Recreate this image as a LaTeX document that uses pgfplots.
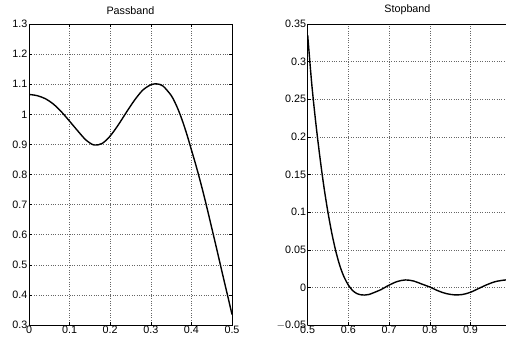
\documentclass[border=0pt]{standalone}
\usepackage{pgfplots}
\pgfplotsset{compat=1.18}
\usepackage{fontspec}
\setmainfont{Liberation Sans}
\begin{document}
\begin{tikzpicture}[x=1bp,y=1bp]
\path[use as bounding box] (0,0) rectangle (506,338);
\pgfplotsset{
  mystyle/.style={
    scale only axis,
    /pgf/number format/assume math mode=true,
    font=\fontsize{10.8}{11}\selectfont,
    tick label style={font=\fontsize{10.8}{11}\selectfont},
    title style={font=\fontsize{10.8}{11}\selectfont, at={(0.5,1)}, anchor=south, yshift=0bp},
    xticklabel style={inner sep=0.5pt},
    yticklabel style={inner sep=1.5pt},
    tick align=inside,
    major tick length=3bp,
    grid=major,
    grid style={dotted, line width=0.45pt, black!60},
    axis line style={line width=0.6pt},
    tick style={line width=0.5pt, black},
    every axis plot/.append style={line width=1.4pt, black},
  }
}
\begin{axis}[mystyle,
  at={(29bp,13bp)}, anchor=south west,
  width=203bp, height=301bp,
  xmin=0, xmax=0.5, ymin=0.3, ymax=1.3,
  xtick={0,0.1,0.2,0.3,0.4,0.5},
  xticklabels={0,0.1,0.2,0.3,0.4,0.5},
  ytick={0.3,0.4,0.5,0.6,0.7,0.8,0.9,1,1.1,1.2,1.3},
  yticklabels={0.3,0.4,0.5,0.6,0.7,0.8,0.9,1,1.1,1.2,1.3},
  title={Passband},
]
\addplot[smooth] coordinates {
(0,1.066) (0.02,1.062) (0.04,1.052) (0.06,1.034) (0.08,1.008) (0.10,0.977)
(0.12,0.945) (0.14,0.915) (0.16,0.898) (0.18,0.903) (0.20,0.928) (0.22,0.965)
(0.24,1.007) (0.26,1.047) (0.28,1.08) (0.30,1.098) (0.315,1.101) (0.33,1.094)
(0.35,1.063) (0.36,1.038) (0.37,1.007) (0.38,0.970) (0.39,0.928) (0.40,0.882) (0.41,0.836)
(0.42,0.787) (0.43,0.735) (0.44,0.680) (0.45,0.623) (0.46,0.566) (0.47,0.508)
(0.48,0.45) (0.49,0.393) (0.50,0.335)
};
\end{axis}
\begin{axis}[mystyle,
  at={(307.7bp,13bp)}, anchor=south west,
  width=199.4bp, height=301bp,
  xmin=0.5, xmax=0.99, ymin=-0.05, ymax=0.35,
  xtick={0.5,0.6,0.7,0.8,0.9},
  xticklabels={0.5,0.6,0.7,0.8,0.9},
  ytick={-0.05,0,0.05,0.1,0.15,0.2,0.25,0.3,0.35},
  yticklabels={$-$0.05,0,0.05,0.1,0.15,0.2,0.25,0.3,0.35},
  axis lines*=left,
  title={Stopband},
]
\addplot[smooth] coordinates {
(0.5,0.335) (0.51,0.27) (0.52,0.218) (0.53,0.173) (0.54,0.133) (0.55,0.099)
(0.56,0.070) (0.57,0.046) (0.58,0.027) (0.59,0.013) (0.60,0.003) (0.61,-0.004)
(0.62,-0.008) (0.63,-0.0098) (0.64,-0.0102) (0.65,-0.0095) (0.66,-0.0075)
(0.68,-0.003) (0.70,0.003) (0.72,0.0078) (0.74,0.0099) (0.76,0.0085)
(0.78,0.0045) (0.80,0.0005) (0.82,-0.0045) (0.84,-0.0082) (0.86,-0.0099)
(0.88,-0.0095) (0.90,-0.0065) (0.92,-0.0015) (0.94,0.0035) (0.96,0.0075)
(0.98,0.0095) (0.99,0.0100)
};
\draw[line width=0.6pt] (rel axis cs:0,1) -- (rel axis cs:1,1);
\end{axis}
\end{tikzpicture}
\end{document}
